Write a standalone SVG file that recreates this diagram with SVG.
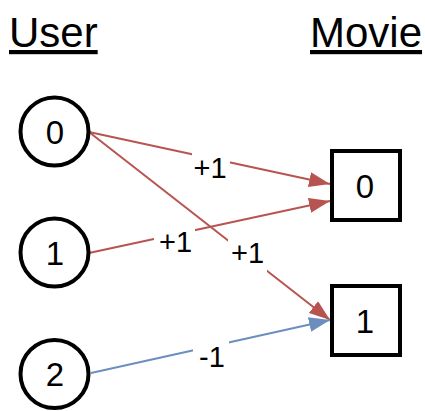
<svg xmlns="http://www.w3.org/2000/svg" width="425" height="411" viewBox="0 0 425 411">
<style>
text{font-family:"Liberation Sans",Arial,sans-serif;fill:#000}
.title{font-size:42px;text-decoration:underline}
.node{fill:#fff;stroke:#000;stroke-width:4}
.nl{font-size:33px;text-anchor:middle}
.red{stroke:#b85450;stroke-width:2;fill:none}
.blue{stroke:#6c8ebf;stroke-width:2;fill:none}
.lbg{fill:#fff}
.el{font-size:29px;text-anchor:middle}
</style>
<defs>
<marker id="ar" markerUnits="userSpaceOnUse" markerWidth="21" markerHeight="15" refX="21" refY="7.5" orient="auto" viewBox="0 0 21 15"><path d="M0,0 L21,7.5 L0,15 z" fill="#b85450"/></marker>
<marker id="ab" markerUnits="userSpaceOnUse" markerWidth="21" markerHeight="15" refX="21" refY="7.5" orient="auto" viewBox="0 0 21 15"><path d="M0,0 L21,7.5 L0,15 z" fill="#6c8ebf"/></marker>
</defs>
<rect width="425" height="411" fill="#fff"/>
<g id="titles">
<text class="title" x="9" y="47">User</text>
<text class="title" x="310" y="47">Movie</text>
</g>
<g id="connectors">
<line class="red" x1="89" y1="132" x2="330" y2="184" marker-end="url(#ar)"/>
<line class="red" x1="89" y1="132" x2="330" y2="320" marker-end="url(#ar)"/>
<line class="red" x1="89" y1="253" x2="330" y2="201" marker-end="url(#ar)"/>
<line class="blue" x1="91" y1="373" x2="330" y2="320" marker-end="url(#ab)"/>
<rect class="lbg" x="192" y="152" width="38" height="30"/>
<text class="el" x="210" y="178">+1</text>
<rect class="lbg" x="228" y="238" width="39" height="34"/>
<text class="el" x="247.5" y="263">+1</text>
<rect class="lbg" x="154" y="226" width="41" height="28"/>
<text class="el" x="175.5" y="252">+1</text>
<rect class="lbg" x="193" y="341" width="36" height="29"/>
<text class="el" x="212" y="367">-1</text>
</g>
<g id="user0"><circle class="node" cx="54.5" cy="131.5" r="34"/><text class="nl" x="55" y="143.5">0</text></g>
<g id="user1"><circle class="node" cx="54.5" cy="252.5" r="34"/><text class="nl" x="55" y="264.5">1</text></g>
<g id="user2"><circle class="node" cx="54.5" cy="374" r="34"/><text class="nl" x="55" y="386">2</text></g>
<g id="movie0"><rect class="node" x="332" y="151" width="68" height="69"/><text class="nl" x="365" y="197.5">0</text></g>
<g id="movie1"><rect class="node" x="332" y="286" width="68" height="69"/><text class="nl" x="365" y="332.5">1</text></g>
</svg>
